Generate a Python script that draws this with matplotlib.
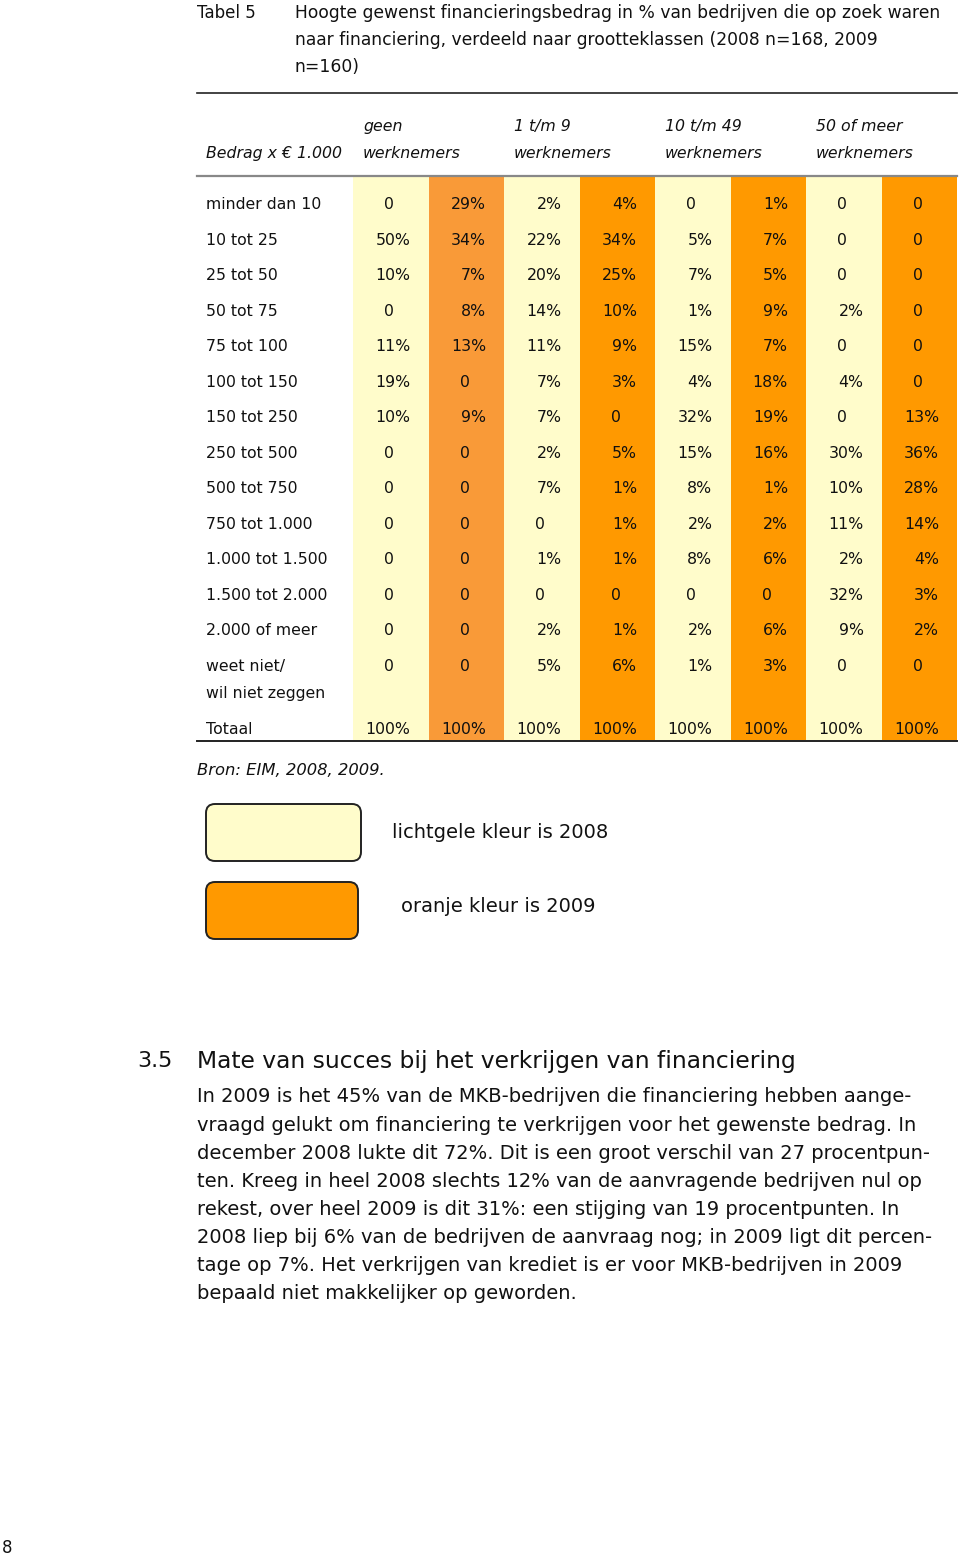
import numpy as np
import matplotlib.pyplot as plt
from matplotlib.patches import Rectangle, FancyBboxPatch

# rijen van de tabel
bedrag_klassen = ["minder dan 10", "10 tot 25", "25 tot 50", "50 tot 75", "75 tot 100",
                  "100 tot 150", "150 tot 250", "250 tot 500", "500 tot 750", "750 tot 1.000",
                  "1.000 tot 1.500", "1.500 tot 2.000", "2.000 of meer",
                  "weet niet/\nwil niet zeggen", "Totaal"]
groottes = ["geen\nwerknemers", "1 t/m 9\nwerknemers", "10 t/m 49\nwerknemers", "50 of meer\nwerknemers"]

# percentages per grootteklasse (kolom), per rij
geen_2008 = [0, 50, 10, 0, 11, 19, 10, 0, 0, 0, 0, 0, 0, 0, 100]
geen_2009 = [29, 34, 7, 8, 13, 0, 9, 0, 0, 0, 0, 0, 0, 0, 100]
klein_2008 = [2, 22, 20, 14, 11, 7, 7, 2, 7, 0, 1, 0, 2, 5, 100]
klein_2009 = [4, 34, 25, 10, 9, 3, 0, 5, 1, 1, 1, 0, 1, 6, 100]
midden_2008 = [0, 5, 7, 1, 15, 4, 32, 15, 8, 2, 8, 0, 2, 1, 100]
midden_2009 = [1, 7, 5, 9, 7, 18, 19, 16, 1, 2, 6, 0, 6, 3, 100]
groot_2008 = [0, 0, 0, 2, 0, 4, 0, 30, 10, 11, 2, 32, 9, 0, 100]
groot_2009 = [0, 0, 0, 0, 0, 0, 13, 36, 28, 14, 4, 3, 2, 0, 100]

kolommen = [geen_2008, geen_2009, klein_2008, klein_2009,
            midden_2008, midden_2009, groot_2008, groot_2009]

titel = ["Hoogte gewenst financieringsbedrag in % van bedrijven die op zoek waren",
         "naar financiering, verdeeld naar grootteklassen (2008 n=168, 2009",
         "n=160)"]
alinea = [
    "In 2009 is het 45% van de MKB-bedrijven die financiering hebben aange-",
    "vraagd gelukt om financiering te verkrijgen voor het gewenste bedrag. In",
    "december 2008 lukte dit 72%. Dit is een groot verschil van 27 procentpun-",
    "ten. Kreeg in heel 2008 slechts 12% van de aanvragende bedrijven nul op",
    "rekest, over heel 2009 is dit 31%: een stijging van 19 procentpunten. In",
    "2008 liep bij 6% van de bedrijven de aanvraag nog; in 2009 ligt dit percen-",
    "tage op 7%. Het verkrijgen van krediet is er voor MKB-bedrijven in 2009",
    "bepaald niet makkelijker op geworden.",
]

GEEL = "#FFFCCB"
ORANJE = "#FF9900"
ORANJE_1 = "#F99A38"
TXT = "#111111"
FS = 11.3
VA = "center_baseline"

fig = plt.figure(figsize=(9.6, 15.55), dpi=100)
ax = fig.add_axes([0, 0, 1, 1])
ax.set_xlim(0, 960)
ax.set_ylim(1555, 0)
ax.axis("off")

# titel
ax.text(197, 11, "Tabel 5", fontsize=12, color=TXT, va=VA)
for i, regel in enumerate(titel):
    ax.text(295, 11 + i * 27, regel, fontsize=12.3, color=TXT, va=VA)

# tabel lijnen
ax.plot([197, 957], [93, 93], color="#222222", lw=1.2)
ax.plot([197, 957], [176, 176], color="#888888", lw=1.6)
ax.plot([197, 957], [741, 741], color="#222222", lw=1.4)

# kolomachtergronden
col_left = 353
col_w = 75.5
kleuren = [GEEL, ORANJE_1, GEEL, ORANJE, GEEL, ORANJE, GEEL, ORANJE]
for i, k in enumerate(kleuren):
    ax.add_patch(Rectangle((col_left + i * col_w, 177), col_w, 563, color=k, lw=0))

# kop
ax.text(206, 152, "Bedrag x € 1.000", fontsize=FS, style="italic", color=TXT, va=VA)
for j, g in enumerate(groottes):
    top, bot = g.split("\n")
    x = 363 + j * 2 * col_w
    ax.text(x, 125, top, fontsize=FS, style="italic", color=TXT, va=VA)
    ax.text(x, 152, bot, fontsize=FS, style="italic", color=TXT, va=VA)

# rijen
row_y = [203, 239, 274, 310, 345, 381, 416, 452, 487, 523, 558, 594, 629, 665, 728]
for r, (label, y) in enumerate(zip(bedrag_klassen, row_y)):
    if "\n" in label:
        a, b = label.split("\n")
        ax.text(206, y, a, fontsize=FS, color=TXT, va=VA)
        ax.text(206, y + 27, b, fontsize=FS, color=TXT, va=VA)
    else:
        ax.text(206, y, label, fontsize=FS, color=TXT, va=VA)
    for c, kol in enumerate(kolommen):
        v = kol[r]
        x0 = col_left + c * col_w
        if v == 0:
            ax.text(x0 + 36, y, "0", fontsize=FS, color=TXT, va=VA, ha="center")
        else:
            ax.text(x0 + 57.5, y, f"{v}%", fontsize=FS, color=TXT, va=VA, ha="right")

ax.text(197, 769, "Bron: EIM, 2008, 2009.", fontsize=11.8, style="italic", color=TXT, va=VA)

# legenda
ax.add_patch(FancyBboxPatch((206, 804), 155, 57, boxstyle="round,pad=0,rounding_size=9",
                            fc=GEEL, ec="#222222", lw=1.4))
ax.add_patch(FancyBboxPatch((206, 882), 152, 57, boxstyle="round,pad=0,rounding_size=9",
                            fc=ORANJE, ec="#222222", lw=1.4))
ax.text(392, 830, "lichtgele kleur is 2008", fontsize=14, color=TXT, va=VA)
ax.text(401, 905, "oranje kleur is 2009", fontsize=14, color=TXT, va=VA)

# paragraaf
ax.text(137, 1059, "3.5", fontsize=16, color=TXT, va=VA)
ax.text(197, 1059, "Mate van succes bij het verkrijgen van financiering", fontsize=16.8,
        color=TXT, va=VA)
for i, line in enumerate(alinea):
    ax.text(197, 1095 + i * 28.1, line, fontsize=14, color=TXT, va=VA)

ax.text(2, 1546, "8", fontsize=12, color=TXT, va=VA)

fig.savefig("out.png", dpi=100, facecolor="white")
